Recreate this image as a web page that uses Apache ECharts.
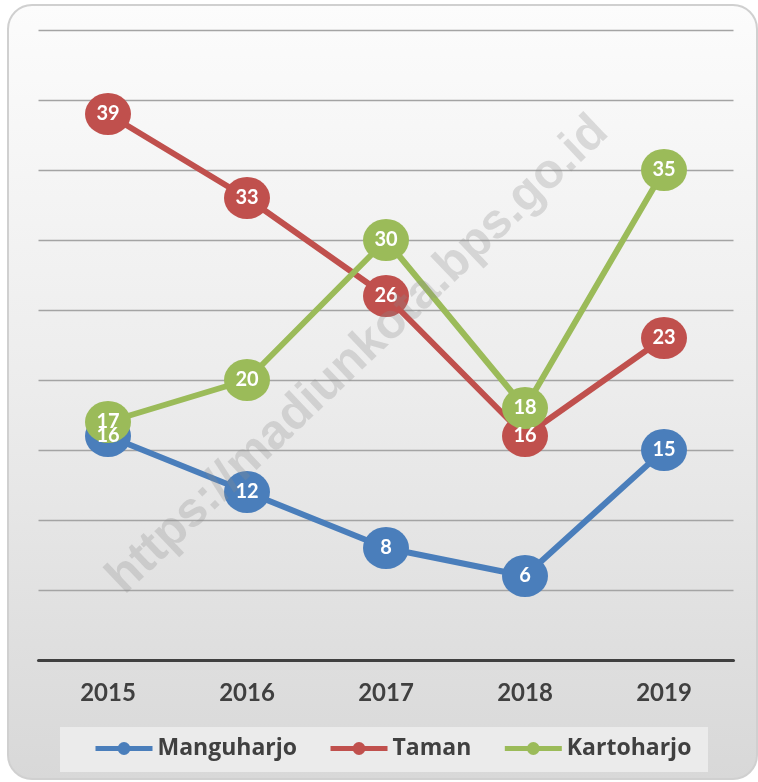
<!DOCTYPE html>
<html>
<head>
<meta charset="utf-8">
<script src="https://cdn.jsdelivr.net/npm/echarts@6/dist/echarts.min.js"></script>
<style>
html,body{margin:0;padding:0;background:#ffffff;}
#chart{width:758px;height:782px;}
</style>
</head>
<body>
<div id="chart"></div>
<script>
const years = ['2015', '2016', '2017', '2018', '2019'];
const manguharjo = [16, 12, 8, 6, 15];
const taman = [39, 33, 26, 16, 23];
const kartoharjo = [17, 20, 30, 18, 35];
const seriesNames = ['Manguharjo', 'Taman', 'Kartoharjo'];
const seriesColors = ['#4a7ebb', '#c0504d', '#9bbb59'];
const watermark = 'https://madiunkota.bps.go.id';

const chart = echarts.init(document.getElementById('chart'));
const values = [manguharjo, taman, kartoharjo];

const series = values.map((v, i) => ({
  name: seriesNames[i],
  type: 'line',
  data: v,
  symbol: 'circle',
  symbolSize: [46, 42],
  z: 3,
  itemStyle: { color: seriesColors[i] },
  lineStyle: { width: 6, color: seriesColors[i] },
  label: {
    show: true,
    position: 'inside',
    color: '#ffffff',
    fontFamily: 'Lato',
    fontWeight: 'bold',
    fontSize: 20
  },
  emphasis: { disabled: true },
  animation: false
}));

chart.setOption({
  animation: false,
  backgroundColor: '#ffffff',
  graphic: [
    {
      type: 'rect',
      z: -10,
      shape: { x: 8, y: 5, width: 749, height: 774, r: 24 },
      style: {
        fill: {
          type: 'linear', x: 0, y: 0, x2: 0, y2: 1,
          colorStops: [
            { offset: 0, color: '#fcfcfc' },
            { offset: 0.5, color: '#ececec' },
            { offset: 1, color: '#d8d8d8' }
          ]
        },
        stroke: '#d0d0d0',
        lineWidth: 2
      },
      silent: true
    },
    {
      type: 'rect',
      z: -9,
      shape: { x: 60, y: 727, width: 648, height: 45 },
      style: { fill: '#ebebeb' },
      silent: true
    },
    {
      type: 'text',
      z: 100,
      x: 358,
      y: 355,
      rotation: Math.PI * 43.5 / 180,
      style: {
        text: watermark,
        fontFamily: 'Liberation Sans',
        fontWeight: 'bold',
        fontSize: 49,
        fill: 'rgba(140,140,140,0.28)',
        align: 'center',
        verticalAlign: 'middle'
      },
      silent: true
    }
  ],
  grid: { left: 38.5, right: 24.5, top: 30, bottom: 122, containLabel: false },
  xAxis: {
    type: 'category',
    data: years,
    boundaryGap: true,
    axisLine: { show: true, lineStyle: { color: '#404040', width: 3 } },
    axisTick: { show: false },
    axisLabel: {
      margin: 21,
      color: '#404040',
      fontFamily: 'Lato',
      fontWeight: 'bold',
      fontSize: 24
    },
    splitLine: { show: false }
  },
  yAxis: {
    type: 'value',
    min: 0,
    max: 45,
    interval: 5,
    axisLine: { show: false },
    axisTick: { show: false },
    axisLabel: { show: false },
    splitLine: { show: true, lineStyle: { color: '#a4a4a4', width: 1.3 } }
  },
  legend: {
    data: seriesNames,
    left: 93,
    top: 737,
    padding: 0,
    itemWidth: 57,
    itemHeight: 16,
    itemGap: 31,
    lineStyle: { width: 5 },
    textStyle: {
      color: '#404040',
      fontFamily: 'Open Sans',
      fontWeight: 'bold',
      fontSize: 23
    },
    selectedMode: false
  },
  series: series
});
</script>
</body>
</html>
